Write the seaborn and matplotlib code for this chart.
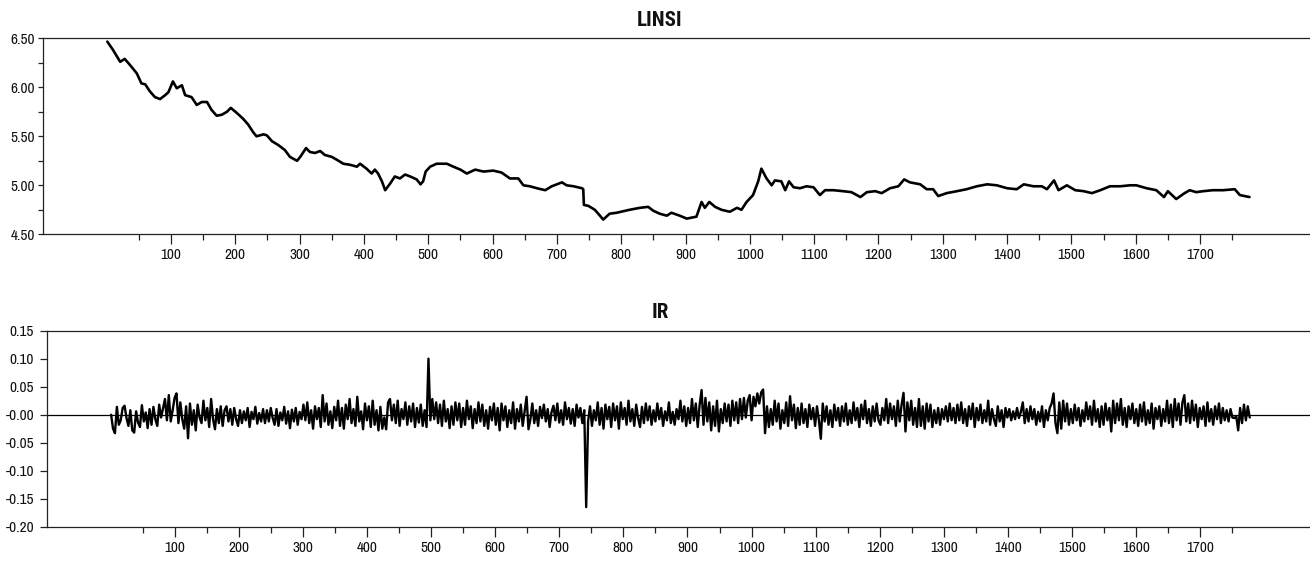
import numpy as np
import pandas as pd
import matplotlib
matplotlib.use("Agg")
import matplotlib.pyplot as plt
from matplotlib.ticker import FixedLocator, FixedFormatter
from matplotlib import font_manager as fm
import seaborn as sns

# ---------------- data ----------------
LINSI_OBS = [1, 10, 21, 28, 34, 41, 47, 54, 60, 67, 75, 83, 91, 96, 103, 109, 114, 117, 122, 132,
             140, 148, 156, 163, 171, 179, 187, 193, 202, 212, 220, 228, 233, 244, 249, 257, 267, 277, 285, 296,
             301, 310, 316, 324, 332, 339, 350, 358, 368, 378, 389, 394, 404, 412, 417, 422, 428, 433, 441, 448,
             456, 464, 472, 482, 488, 492, 496, 503, 513, 529, 539, 550, 560, 573, 586, 601, 614, 627, 640, 648,
             658, 669, 682, 692, 708, 715, 726, 739, 741, 742, 749, 759, 767, 772, 782, 793, 806, 813, 829, 842,
             850, 860, 871, 878, 891, 902, 917, 925, 930, 937, 946, 956, 969, 980, 987, 995, 1005, 1013, 1018, 1026,
             1034, 1039, 1049, 1055, 1061, 1068, 1078, 1088, 1099, 1109, 1117, 1130, 1145, 1158, 1172, 1182, 1195, 1205, 1218, 1231,
             1240, 1249, 1265, 1275, 1285, 1293, 1306, 1322, 1337, 1353, 1369, 1384, 1400, 1415, 1426, 1441, 1454, 1462, 1473, 1480,
             1493, 1506, 1519, 1532, 1545, 1560, 1576, 1591, 1601, 1617, 1632, 1644, 1650, 1663, 1676, 1684, 1694, 1705, 1720, 1736,
             1754, 1762, 1777]
LINSI = [6.466, 6.38, 6.26, 6.29, 6.245, 6.19, 6.14, 6.04, 6.03, 5.96, 5.90, 5.88, 5.92, 5.95, 6.06, 5.99, 6.01, 6.02, 5.92, 5.90,
         5.82, 5.85, 5.85, 5.77, 5.71, 5.72, 5.75, 5.79, 5.74, 5.68, 5.62, 5.54, 5.50, 5.52, 5.51, 5.45, 5.41, 5.36, 5.29, 5.25,
         5.29, 5.38, 5.34, 5.33, 5.35, 5.31, 5.29, 5.26, 5.22, 5.21, 5.19, 5.22, 5.17, 5.12, 5.16, 5.12, 5.04, 4.95, 5.02, 5.09,
         5.07, 5.11, 5.09, 5.06, 5.01, 5.04, 5.14, 5.19, 5.22, 5.22, 5.19, 5.16, 5.12, 5.16, 5.14, 5.15, 5.13, 5.07, 5.07, 5.00,
         4.99, 4.97, 4.95, 4.99, 5.03, 5.00, 4.99, 4.97, 4.96, 4.80, 4.79, 4.75, 4.69, 4.65, 4.71, 4.72, 4.74, 4.75, 4.77, 4.78,
         4.74, 4.71, 4.69, 4.72, 4.69, 4.66, 4.68, 4.83, 4.77, 4.83, 4.78, 4.75, 4.73, 4.77, 4.75, 4.83, 4.90, 5.04, 5.17, 5.07,
         5.00, 5.05, 5.04, 4.95, 5.04, 4.98, 4.97, 4.99, 4.98, 4.90, 4.95, 4.95, 4.94, 4.93, 4.88, 4.93, 4.94, 4.92, 4.97, 4.99,
         5.06, 5.03, 5.01, 4.96, 4.96, 4.89, 4.92, 4.94, 4.96, 4.99, 5.01, 5.00, 4.97, 4.96, 5.01, 4.99, 4.99, 4.96, 5.05, 4.95,
         5.00, 4.95, 4.94, 4.92, 4.95, 4.99, 4.99, 5.00, 5.00, 4.97, 4.95, 4.88, 4.94, 4.86, 4.92, 4.95, 4.93, 4.94, 4.95, 4.95,
         4.96, 4.90, 4.88]

# IR, in thousandths, one value every 3 observations starting at obs 1 (20 values = 60 obs per row)
IR_MILLI = [
    0, -25, -33, 14, -18, -10, 12, 16, -6, -20, 8, -28, -32, 6, -14, -22, 17, -12, 4, -24,
    10, -18, 14, -8, -20, 18, -5, 12, 28, -10, 35, -12, 8, 30, 38, -15, 22, -8, -25, 15,
    -42, 20, -18, 8, -28, 18, -5, -15, 25, -10, 12, -22, 28, -8, -26, 10, -15, 15, -20, 8,
    15, -12, 10, -18, 12, -8, -20, 8, -15, 6, -10, 12, -22, 5, -8, 14, -16, 3, -12, 10,
    -15, 8, -12, 12, -6, -18, 10, -20, 4, -10, 14, -16, 6, -24, 9, -12, 12, -18, 5, -8,
    18, -10, 22, -15, 8, -25, 15, -8, 12, -22, 35, -12, 20, -18, 6, -24, 14, -10, 25, -20,
    12, -25, 18, -8, 28, -15, 10, -20, 32, -12, 6, -26, 20, -10, 15, -22, 25, -18, 8, -28,
    14, -25, -5, -26, 22, 28, -10, 18, -15, 25, -20, 10, -8, 22, -18, 15, -12, 20, -22, 12,
    -14, 18, -20, 8, -22, 100, -10, 28, -8, 22, -15, 18, -20, 25, -12, 10, -24, 15, -18, 22,
    -10, 20, -22, 12, -18, 25, -8, 15, -24, 10, -15, 22, -12, 18, -20, 8, -25, 14, -10, 20,
    -18, 12, -28, 20, -10, 15, -22, 8, -15, 22, -25, 10, -12, 18, -20, 6, 32, -26, -8, 20,
    -15, 8, -20, 14, -6, 18, -12, 10, -22, 5, 16, -10, 20, -14, 8, -18, 22, -8, 12, -16,
    10, -20, 18, -5, 12, -15, 8, -165, -12, 15, -20, 8, -10, 22, -18, 12, -25, 18, -8, 14,
    -22, 20, -10, 15, -25, 22, -8, 12, -18, 25, -12, 10, -20, 18, -6, -22, 14, -15, 20, -10,
    15, -18, 8, -12, 20, -8, 12, -20, 6, -10, 22, -15, 5, -18, 10, -8, 25, -12, 15, -20,
    12, -15, 28, -10, 20, -22, 18, 44, -18, 30, -12, 22, -28, 15, -20, 25, -30, 10, -15, 20,
    -12, 18, -20, 25, -10, 22, -15, 28, -8, 30, -5, 25, 35, -10, 32, 15, 38, 20, 40, 45,
    -33, 15, -22, 10, -18, 25, -12, 20, -25, 8, -15, 22, -20, 33, -10, 18, -24, 12, -18, 20,
    -15, 10, -22, 18, -8, 12, -20, 15, -10, -43, 20, -12, 15, -18, 8, -22, 18, -10, 12, -20,
    15, -12, 20, -18, 8, -15, 22, -10, 12, -22, 18, -8, 25, -15, 10, -20, 15, -12, 20, -10,
    -18, 12, -10, 28, -15, 20, -8, 15, -20, 25, -12, 18, 39, -30, 22, -10, 25, -18, 12, -22,
    28, -20, 15, -25, 20, -12, 18, -22, 8, -15, 12, -18, 10, -8, 15, -12, 20, -10, 12, -15,
    18, -10, 22, -15, 10, -20, 15, -8, 20, -22, 12, -10, 18, -15, 8, -12, 25, -18, 10, -8,
    -20, 15, -12, 8, -22, 12, -5, 10, -10, 6, -8, 12, -6, 5, 22, -15, 10, -12, 15, -8,
    10, -18, 5, -12, 15, -22, 8, -10, 12, 20, 38, -15, -33, 22, -25, 25, -12, 20, -18, 10,
    -15, 18, -10, 12, -20, 8, -12, 22, -8, 15, -18, 25, -12, 10, -22, 15, -18, 20, -10, 12,
    -30, 25, -15, 20, -10, 28, -18, 12, -22, 15, -8, 20, -15, 10, -20, 18, -12, 22, -18, 8,
    -15, 20, -25, 12, -8, 15, -20, 10, -12, 25, -15, 18, -22, 28, -10, 20, -18, 22, 35, -12,
    20, -15, 25, -10, 18, -22, 12, -8, 15, -20, 22, -12, 10, -18, 15, -8, 20, -15, 12, -10,
    8, -12, 10, -5, -6, -3, -28, 12, -15, 18, -10, 15, -5,
]
IR_STEP = 3

X_MAJOR = [100, 200, 300, 400, 500, 600, 700, 800, 900, 1000, 1100, 1200, 1300, 1400, 1500, 1600, 1700]
X_MINOR = [50, 150, 250, 350, 450, 550, 650, 750, 850, 950, 1050, 1150, 1250, 1350, 1450, 1550, 1650, 1750]
LINSI_TICKS = [4.50, 5.00, 5.50, 6.00, 6.50]
LINSI_TICK_LABELS = ["4.50", "5.00", "5.50", "6.00", "6.50"]
LINSI_MINOR = [4.75, 5.25, 5.75, 6.25]
IR_TICKS = [-0.20, -0.15, -0.10, -0.05, 0.0, 0.05, 0.10, 0.15]
IR_TICK_LABELS = ["-0.20", "-0.15", "-0.10", "-0.05", "-0.00", "0.05", "0.10", "0.15"]

# ---------------- frames ----------------
df_linsi = pd.DataFrame({"obs": LINSI_OBS, "LINSI": LINSI})
ir_obs = 1 + IR_STEP * np.arange(len(IR_MILLI))
df_ir = pd.DataFrame({"obs": ir_obs, "IR": np.array(IR_MILLI) / 1000.0})

# ---------------- style ----------------
sns.set_theme(style="white")


def _w(v):
    if isinstance(v, (int, float)):
        return v
    return {"bold": 700, "heavy": 800, "black": 900, "semibold": 600, "demibold": 600,
            "extra bold": 800, "ultrabold": 800}.get(str(v).lower(), 400)


fonts_by_name = {}
for f in fm.fontManager.ttflist:
    fonts_by_name.setdefault(f.name, []).append(f)

narrow_pref = ["Liberation Sans Narrow", "Arial Narrow", "Archivo Narrow", "Roboto Condensed",
               "PT Sans Narrow", "Open Sans Condensed"]
chosen = [n for n in narrow_pref if n in fonts_by_name]
NARROW = chosen[0] if chosen else "Liberation Sans"
bold_narrow = [n for n in narrow_pref if n in fonts_by_name
               and any(_w(f.weight) >= 600 for f in fonts_by_name[n])]
TITLE_FONT = bold_narrow[0] if bold_narrow else "Liberation Sans"

plt.rcParams["font.family"] = [NARROW, "Liberation Sans", "DejaVu Sans"]
is_narrow = NARROW != "Liberation Sans"
TICK_FS = 11 if is_narrow else 9.5
TITLE_FS = 15 if TITLE_FONT != "Liberation Sans" else 12.5

W, H = 1310, 561
fig = plt.figure(figsize=(W / 100, H / 100), dpi=100)
ax1 = fig.add_axes([43 / W, (H - 234.3) / H, (W - 43) / W, 196 / H])
ax2 = fig.add_axes([47 / W, (H - 526.7) / H, (W - 47) / W, 196 / H])

sns.lineplot(data=df_linsi, x="obs", y="LINSI", ax=ax1, color="black",
             linewidth=1.9, estimator=None, sort=False)
ax2.axhline(0.0, color="black", linewidth=0.9, zorder=1)
sns.lineplot(data=df_ir, x="obs", y="IR", ax=ax2, color="black",
             linewidth=1.7, estimator=None, sort=False, zorder=2)

XLIM = (-99, 1871)
for ax in (ax1, ax2):
    ax.set_xlim(*XLIM)
    ax.spines["right"].set_visible(False)
    for s in ("left", "top", "bottom"):
        ax.spines[s].set_visible(True)
        ax.spines[s].set_color("#222222")
        ax.spines[s].set_linewidth(0.9)
    ax.set_xlabel("")
    ax.set_ylabel("")
    ax.xaxis.set_major_locator(FixedLocator(X_MAJOR))
    ax.xaxis.set_major_formatter(FixedFormatter([str(v) for v in X_MAJOR]))
    ax.xaxis.set_minor_locator(FixedLocator(X_MINOR))
    ax.tick_params(axis="x", which="major", direction="out", length=7, width=0.9,
                   pad=3.0, labelsize=TICK_FS, colors="#222222", bottom=True, top=False)
    ax.tick_params(axis="x", which="minor", direction="out", length=4, width=0.9,
                   bottom=True, top=False, colors="#222222")
    ax.grid(False)

ax1.set_ylim(4.50, 6.50)
ax1.yaxis.set_major_locator(FixedLocator(LINSI_TICKS))
ax1.yaxis.set_major_formatter(FixedFormatter(LINSI_TICK_LABELS))
ax1.yaxis.set_minor_locator(FixedLocator(LINSI_MINOR))
ax1.tick_params(axis="y", which="both", direction="out", length=3.8, width=0.9,
                pad=2.2, labelsize=TICK_FS, colors="#222222", left=True, right=False)

ax2.set_ylim(-0.20, 0.15)
ax2.yaxis.set_major_locator(FixedLocator(IR_TICKS))
ax2.yaxis.set_major_formatter(FixedFormatter(IR_TICK_LABELS))
ax2.tick_params(axis="y", which="major", direction="out", length=4.8, width=0.9,
                pad=4.5, labelsize=TICK_FS, colors="#222222", left=True, right=False)

for lab in ax1.get_xticklabels() + ax1.get_yticklabels() + ax2.get_xticklabels() + ax2.get_yticklabels():
    lab.set_color("#111111")

title_kw = dict(fontsize=TITLE_FS, fontweight="bold", pad=9, color="#111111",
                family=[TITLE_FONT, "Liberation Sans", "DejaVu Sans"])
ax1.set_title("LINSI", x=(660 - 43) / (W - 43), **title_kw)
ax2.set_title("IR", x=(660 - 47) / (W - 47), **title_kw)

fig.savefig("out.png", dpi=100)
